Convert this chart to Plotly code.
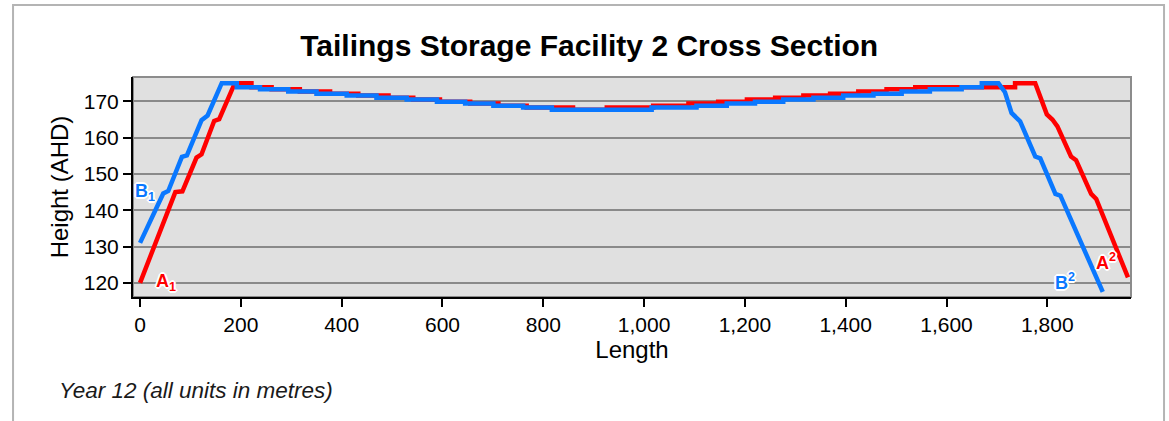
# cross section profile of tailings storage facility 2 (year 12)

import plotly.graph_objects as go

# profile A (red) - left batter, crest steps, right batter
a_left_x = [0, 70, 84, 112, 122, 147, 157, 188]
a_left_y = [120, 145, 145.2, 154.5, 155.4, 164.6, 165.1, 175]
a_step_x = [188, 221, 261, 317, 377, 433, 493, 542, 595, 655, 711, 767, 859,
            926, 1018, 1088, 1147, 1204, 1260, 1316, 1369, 1425, 1481, 1538, 1736]
a_step_y = [175, 173.9, 173.3, 172.7, 172.1, 171.6, 171.0, 170.5, 169.9, 169.4, 168.8, 168.3, 167.7,
            168.3, 168.8, 169.4, 169.9, 170.5, 171.0, 171.6, 172.1, 172.7, 173.3, 173.9, 175.0]
a_right_x = [1776, 1783, 1799, 1810, 1820, 1847, 1857, 1887, 1897, 1960]
a_right_y = [175, 172.5, 166.4, 165, 163.1, 154.8, 153.8, 144.5, 143.1, 121.5]

# profile B (blue)
b_left_x = [0, 46, 56, 83, 93, 122, 134, 162]
b_left_y = [131, 144.6, 145.3, 154.7, 155.1, 164.8, 166.1, 175]
b_step_x = [162, 192, 238, 294, 350, 410, 469, 529, 589, 645, 701, 760, 817,
            1015, 1104, 1164, 1220, 1276, 1336, 1395, 1455, 1511, 1567, 1630, 1670]
b_step_y = [175, 173.9, 173.3, 172.7, 172.1, 171.6, 171.0, 170.5, 169.9, 169.4, 168.8, 168.3, 167.7,
            168.3, 168.8, 169.4, 169.9, 170.5, 171.0, 171.6, 172.1, 172.7, 173.3, 173.9, 175.0]
b_right_x = [1703, 1716, 1729, 1746, 1776, 1786, 1816, 1826, 1910]
b_right_y = [175, 172.5, 166.8, 164.5, 154.8, 154.3, 144.5, 144, 117.5]

RED = "#ff0000"
BLUE = "#0a78ff"
FONT = "Arial, Liberation Sans, sans-serif"
OUTLINE = ("1px 1px 0 #fff, -1px -1px 0 #fff, 1px -1px 0 #fff, -1px 1px 0 #fff, "
           "2px 0 0 #fff, -2px 0 0 #fff, 0 2px 0 #fff, 0 -2px 0 #fff")


def staircase(xs, ys):
    # expand step breakpoints into corner points
    px, py = [], []
    for i, (x, y) in enumerate(zip(xs, ys)):
        if i > 0:
            px.append(x)
            py.append(ys[i - 1])
        px.append(x)
        py.append(y)
    return px, py


def profile(left_x, left_y, step_x, step_y, right_x, right_y):
    sx, sy = staircase(step_x, step_y)
    return left_x + sx + right_x, left_y + sy + right_y


ax, ay = profile(a_left_x, a_left_y, a_step_x, a_step_y, a_right_x, a_right_y)
bx, by = profile(b_left_x, b_left_y, b_step_x, b_step_y, b_right_x, b_right_y)

fig = go.Figure()
fig.add_scatter(x=ax, y=ay, mode="lines", name="A", line=dict(color=RED, width=4.5))
fig.add_scatter(x=bx, y=by, mode="lines", name="B", line=dict(color=BLUE, width=4.5))

# section end labels
labels = [
    ("<b>A<sub>1</sub></b>", 52, 120, RED),
    ("<b>B<sub>1</sub></b>", 10, 145, BLUE),
    ("<b>B<sup>2</sup></b>", 1836, 120.5, BLUE),
    ("<b>A<sup>2</sup></b>", 1916, 126, RED),
]
annotations = [
    dict(text=t, x=x, y=y, xref="x", yref="y", showarrow=False,
         font=dict(family=FONT, size=18, color=c, shadow=OUTLINE))
    for t, x, y, c in labels
]
annotations.append(dict(
    text="<i>Year 12 (all units in metres)</i>", x=-0.076, y=-0.423,
    xref="paper", yref="paper", xanchor="left", yanchor="middle", showarrow=False,
    font=dict(family=FONT, size=22.5, color="#1a1a1a"),
))

fig.update_layout(
    width=1169,
    height=421,
    margin=dict(l=133, r=38, t=77, b=124),
    paper_bgcolor="white",
    plot_bgcolor="#e0e0e0",
    showlegend=False,
    font=dict(family=FONT, color="black"),
    title=dict(text="<b>Tailings Storage Facility 2 Cross Section</b>", x=0.504, xref="container",
               xanchor="center", y=0.893, yanchor="middle", font=dict(size=30, color="black")),
    annotations=annotations,
    shapes=[
        # plot frame (grey top/right)
        dict(type="rect", xref="paper", yref="paper", x0=0, x1=1, y0=0, y1=1,
             line=dict(color="#8c8c8c", width=2), layer="below"),
        # outer chart border
        dict(type="rect", xref="paper", yref="paper", x0=-0.1202, x1=1.0331, y0=-0.7, y1=1.327,
             line=dict(color="#b4b4b4", width=2)),
    ],
)

fig.update_xaxes(
    range=[-14, 1966], tickvals=[0, 200, 400, 600, 800, 1000, 1200, 1400, 1600, 1800],
    tickformat=",d", showgrid=False, zeroline=False,
    showline=True, linecolor="black", linewidth=2,
    ticks="outside", ticklen=8, tickwidth=2, tickcolor="black",
    tickfont=dict(size=21), title=dict(text="Length", font=dict(size=24), standoff=5),
)
fig.update_yaxes(
    range=[116.1, 176.7], tickvals=[120, 130, 140, 150, 160, 170],
    showgrid=True, gridcolor="#8a8a8a", gridwidth=2, zeroline=False,
    showline=True, linecolor="black", linewidth=2,
    ticks="outside", ticklen=8, tickwidth=2, tickcolor="black",
    tickfont=dict(size=21), title=dict(text="Height (AHD)", font=dict(size=24), standoff=8),
)

# drop the default page margin so the figure sits at the window origin
fig.write_html("out.html", config={"displayModeBar": False},
               post_script="document.body.style.margin='0';")
